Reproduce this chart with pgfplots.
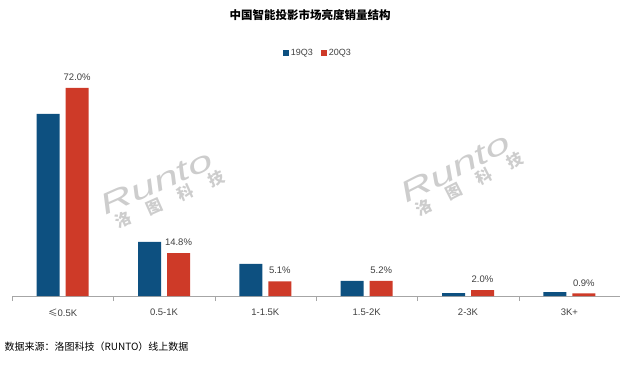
\documentclass[border=0pt]{standalone}
\usepackage{pgfplots}
\pgfplotsset{compat=1.18}
\usepackage{fontspec}
\setmainfont{Liberation Sans}
\newfontfamily\cjk{Noto Sans CJK SC}
\definecolor{cblue}{RGB}{13,80,128}
\definecolor{cred}{RGB}{206,58,40}
\definecolor{txt}{RGB}{64,64,64}
\definecolor{wm}{RGB}{205,205,205}
\begin{document}
\begin{tikzpicture}[x=1pt,y=1pt]
\path[use as bounding box] (0,0) rectangle (620,370);
% watermarks
\foreach \cx/\cy/\ang in {162/180/24, 461/195/27} {
  \node[rotate=\ang, text=wm, align=left, inner sep=0pt] at (\cx,\cy)
    {\scalebox{1.55}[1]{\itshape\fontsize{29}{29}\selectfont Runto}\\[2pt]
     \hspace{6pt}{\cjk\bfseries\fontsize{16}{16}\selectfont 洛\hspace{18pt}图\hspace{18pt}科\hspace{18pt}技}};
}
\node[font=\cjk\bfseries\fontsize{11.5}{13}\selectfont, text=black] at (310,355) {中国智能投影市场亮度销量结构};
\node[anchor=west, font=\cjk\fontsize{10}{12}\selectfont, text=black] at (1,23) {数据来源：洛图科技（RUNTO）线上数据};
\begin{axis}[
  at={(12pt,74pt)}, anchor=south west,
  scale only axis, width=608pt, height=231.2pt,
  xmin=-0.5, xmax=5.5, ymin=0, ymax=80,
  ybar=6pt, bar width=23pt,
  axis y line=none, axis x line*=bottom,
  axis line style={draw=gray!70},
  xtick={0,1,2,3,4,5},
  xticklabels={{\cjk ≤}0.5K, 0.5-1K, 1-1.5K, 1.5-2K, 2-3K, 3K+},
  major x tick style={draw=none},
  extra x ticks={-0.5,0.5,1.5,2.5,3.5,4.5,5.5},
  extra x tick labels={},
  extra x tick style={tick align=outside, major tick length=5pt, major x tick style={draw=gray!70}},
  xticklabel style={font=\fontsize{9.5}{10}\selectfont, text=txt, yshift=-5pt},
  legend style={draw=none, fill=none, legend columns=2, at={(0.503,1.051)}, anchor=center,
    font=\fontsize{9}{10}\selectfont, text=txt,
    /tikz/every even column/.append style={column sep=6pt}},
  legend image code/.code={\fill[#1] (0pt,-3pt) rectangle (6pt,3pt);},
  clip=false,
]
\addplot[fill=cblue, draw=none] coordinates {(0,63.0) (1,18.7) (2,11.1) (3,5.2) (4,1.0) (5,1.3)};
\addplot[fill=cred, draw=none,
  point meta=explicit symbolic,
  nodes near coords,
  nodes near coords style={font=\fontsize{9.5}{10}\selectfont, text=txt, anchor=south, yshift=6pt, inner sep=1pt}]
  coordinates {(0,72.0) [72.0\%] (1,14.8) [14.8\%] (2,5.1) [5.1\%] (3,5.2) [5.2\%] (4,2.0) [2.0\%] (5,0.9) [0.9\%]};
\legend{19Q3, 20Q3}
\end{axis}
\end{tikzpicture}
\end{document}
